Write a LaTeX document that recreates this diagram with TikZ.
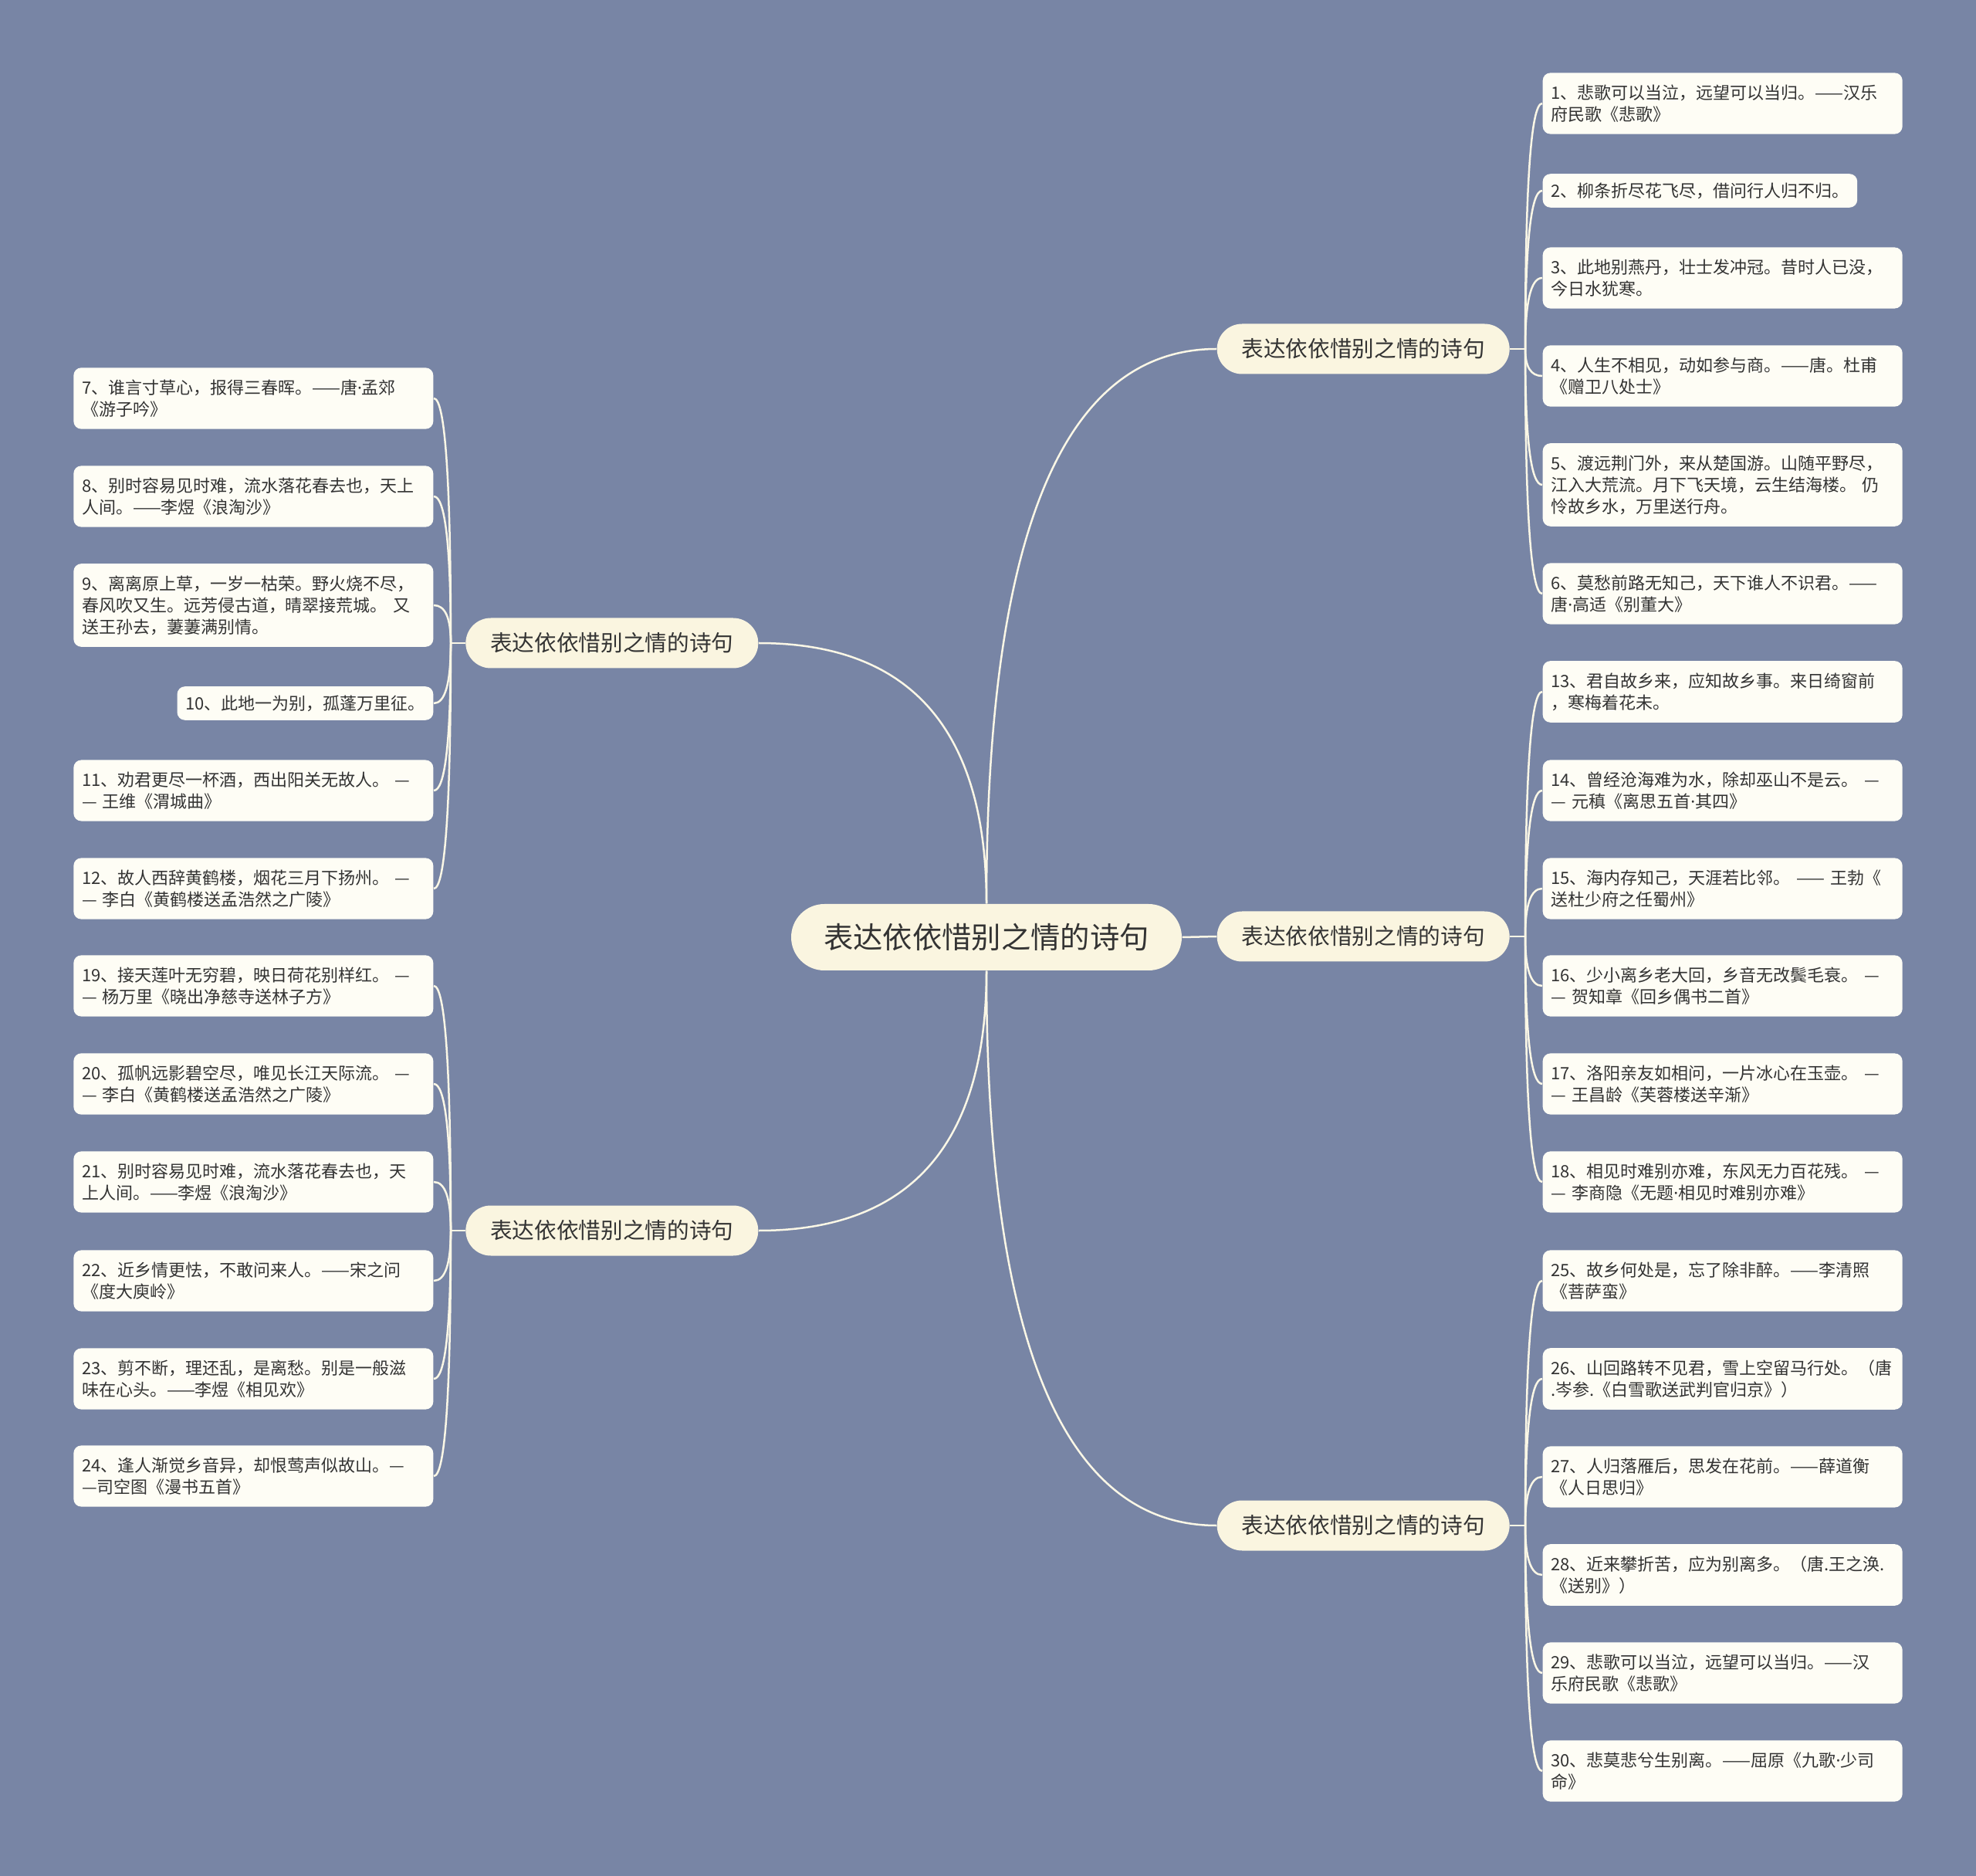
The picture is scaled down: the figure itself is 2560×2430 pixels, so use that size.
\documentclass[tikz,border=0pt]{standalone}
\usepackage{fontspec}
\setmainfont{Noto Sans CJK SC}
\newfontfamily\latinfont{Noto Sans}
\usetikzlibrary{calc}
\definecolor{bgc}{HTML}{7885A5}
\definecolor{rootc}{HTML}{FAF5E0}
\definecolor{leafc}{HTML}{FEFDF5}
\definecolor{linec}{HTML}{FBF7E6}
\definecolor{inkc}{HTML}{333333}
\tikzset{
  root/.style={rounded corners=12.9pt, fill=rootc, text=inkc, inner sep=0pt, minimum height=25.8pt, minimum width=151.8pt, font=\fontsize{11.5}{14}\selectfont},
  topic/.style={rounded corners=9.75pt, fill=rootc, text=inkc, inner sep=0pt, minimum height=19.5pt, minimum width=113.7pt, font=\fontsize{8.6}{10}\selectfont},
  leaf/.style={rounded corners=3pt, fill=leafc, text=inkc, align=left, inner xsep=3.2pt, inner ysep=4.6pt, font=\fontsize{6.6}{8.4}\selectfont},
  wide/.style={leaf, text width=133.4pt},
  short/.style={leaf, inner ysep=3.4pt},
  link/.style={draw=linec, line width=0.75pt},
}
\newcommand{\md}{{\latinfont ·}}
\newcommand{\Rat}[1]{(1998,{#1})}
\newcommand{\Lat}[1]{(562,{#1})}
\newcommand{\twig}[2]{% from, to: leaves #1 upright, reaches #2 level
  \draw[link] (#1) .. controls ($(#1)!2/3!(#1 |- #2)$) and ($(#2)!2/3!(#1 |- #2)$) .. (#2);}

\begin{document}
\begin{tikzpicture}[x=0.3pt, y=-0.3pt]
  \fill[bgc] (0,0) rectangle (2560,2430);
  \node[root] (c) at (1278,1214) {表达依依惜别之情的诗句};
  \node[topic, anchor=west] (tA) at (1576,452) {表达依依惜别之情的诗句};
  \node[topic, anchor=west] (tB) at (1576,1213) {表达依依惜别之情的诗句};
  \node[topic, anchor=west] (tC) at (1576,1976) {表达依依惜别之情的诗句};
  \node[topic, anchor=east] (tD) at (983,833) {表达依依惜别之情的诗句};
  \node[topic, anchor=east] (tE) at (983,1594) {表达依依惜别之情的诗句};
  \twig{c.north}{tA.west} \twig{c.north}{tD.east}
  \twig{c.south}{tC.west} \twig{c.south}{tE.east}
  \draw[link] (c.east) -- (tB.west);
  % right, upper group
  \node[wide, anchor=west] (q1) at \Rat{134} {1、悲歌可以当泣，远望可以当归。——汉乐\\府民歌《悲歌》};
  \node[short, anchor=west] (q2) at \Rat{247} {2、柳条折尽花飞尽，借问行人归不归。};
  \node[wide, anchor=west] (q3) at \Rat{360} {3、此地别燕丹，壮士发冲冠。昔时人已没，\\今日水犹寒。};
  \node[wide, anchor=west] (q4) at \Rat{487} {4、人生不相见，动如参与商。——唐。杜甫\\《赠卫八处士》};
  \node[wide, anchor=west] (q5) at \Rat{628} {5、渡远荆门外，来从楚国游。山随平野尽，\\江入大荒流。月下飞天境，云生结海楼。 仍\\怜故乡水，万里送行舟。};
  \node[wide, anchor=west] (q6) at \Rat{769} {6、莫愁前路无知己，天下谁人不识君。——\\唐\md 高适《别董大》};
  % right, middle group
  \node[wide, anchor=west] (q13) at \Rat{896} {13、君自故乡来，应知故乡事。来日绮窗前\\，寒梅着花未。};
  \node[wide, anchor=west] (q14) at \Rat{1024} {14、曾经沧海难为水，除却巫山不是云。 —\\— 元稹《离思五首\md 其四》};
  \node[wide, anchor=west] (q15) at \Rat{1151} {15、海内存知己，天涯若比邻。 —— 王勃《\\送杜少府之任蜀州》};
  \node[wide, anchor=west] (q16) at \Rat{1277} {16、少小离乡老大回，乡音无改鬓毛衰。 —\\— 贺知章《回乡偶书二首》};
  \node[wide, anchor=west] (q17) at \Rat{1404} {17、洛阳亲友如相问，一片冰心在玉壶。 —\\— 王昌龄《芙蓉楼送辛渐》};
  \node[wide, anchor=west] (q18) at \Rat{1531} {18、相见时难别亦难，东风无力百花残。 —\\— 李商隐《无题\md 相见时难别亦难》};
  % right, lower group
  \node[wide, anchor=west] (q25) at \Rat{1659} {25、故乡何处是，忘了除非醉。——李清照\\《菩萨蛮》};
  \node[wide, anchor=west] (q26) at \Rat{1786} {26、山回路转不见君，雪上空留马行处。（唐\\.岑参.《白雪歌送武判官归京》）};
  \node[wide, anchor=west] (q27) at \Rat{1913} {27、人归落雁后，思发在花前。——薛道衡\\《人日思归》};
  \node[wide, anchor=west] (q28) at \Rat{2040} {28、近来攀折苦，应为别离多。（唐.王之涣.\\《送别》）};
  \node[wide, anchor=west] (q29) at \Rat{2167} {29、悲歌可以当泣，远望可以当归。——汉\\乐府民歌《悲歌》};
  \node[wide, anchor=west] (q30) at \Rat{2294} {30、悲莫悲兮生别离。——屈原《九歌\md 少司\\命》};
  % left, upper group
  \node[wide, anchor=east] (q7) at \Lat{516} {7、谁言寸草心，报得三春晖。——唐\md 孟郊\\《游子吟》};
  \node[wide, anchor=east] (q8) at \Lat{643} {8、别时容易见时难，流水落花春去也，天上\\人间。——李煜《浪淘沙》};
  \node[wide, anchor=east] (q9) at \Lat{784} {9、离离原上草，一岁一枯荣。野火烧不尽，\\春风吹又生。远芳侵古道，晴翠接荒城。 又\\送王孙去，萋萋满别情。};
  \node[short, anchor=east] (q10) at \Lat{911} {10、此地一为别，孤蓬万里征。};
  \node[wide, anchor=east] (q11) at \Lat{1024} {11、劝君更尽一杯酒，西出阳关无故人。 —\\— 王维《渭城曲》};
  \node[wide, anchor=east] (q12) at \Lat{1151} {12、故人西辞黄鹤楼，烟花三月下扬州。 —\\— 李白《黄鹤楼送孟浩然之广陵》};
  % left, lower group
  \node[wide, anchor=east] (q19) at \Lat{1277} {19、接天莲叶无穷碧，映日荷花别样红。 —\\— 杨万里《晓出净慈寺送林子方》};
  \node[wide, anchor=east] (q20) at \Lat{1404} {20、孤帆远影碧空尽，唯见长江天际流。 —\\— 李白《黄鹤楼送孟浩然之广陵》};
  \node[wide, anchor=east] (q21) at \Lat{1531} {21、别时容易见时难，流水落花春去也，天\\上人间。——李煜《浪淘沙》};
  \node[wide, anchor=east] (q22) at \Lat{1659} {22、近乡情更怯，不敢问来人。——宋之问\\《度大庾岭》};
  \node[wide, anchor=east] (q23) at \Lat{1786} {23、剪不断，理还乱，是离愁。别是一般滋\\味在心头。——李煜《相见欢》};
  \node[wide, anchor=east] (q24) at \Lat{1912} {24、逢人渐觉乡音异，却恨莺声似故山。—\\—司空图《漫书五首》};
  % junctions and twigs
  \coordinate (jA) at (1976,452);  \coordinate (jB) at (1976,1213);
  \coordinate (jC) at (1976,1976); \coordinate (jD) at (584,833);
  \coordinate (jE) at (584,1594);
  \draw[link] (tA.east) -- (jA); \draw[link] (tB.east) -- (jB);
  \draw[link] (tC.east) -- (jC); \draw[link] (tD.west) -- (jD);
  \draw[link] (tE.west) -- (jE);
  \foreach \k in {1,...,6} \twig{jA}{q\k.west};
  \foreach \k in {13,...,18} \twig{jB}{q\k.west};
  \foreach \k in {25,...,30} \twig{jC}{q\k.west};
  \foreach \k in {7,...,12} \twig{jD}{q\k.east};
  \foreach \k in {19,...,24} \twig{jE}{q\k.east};
\end{tikzpicture}
\end{document}
